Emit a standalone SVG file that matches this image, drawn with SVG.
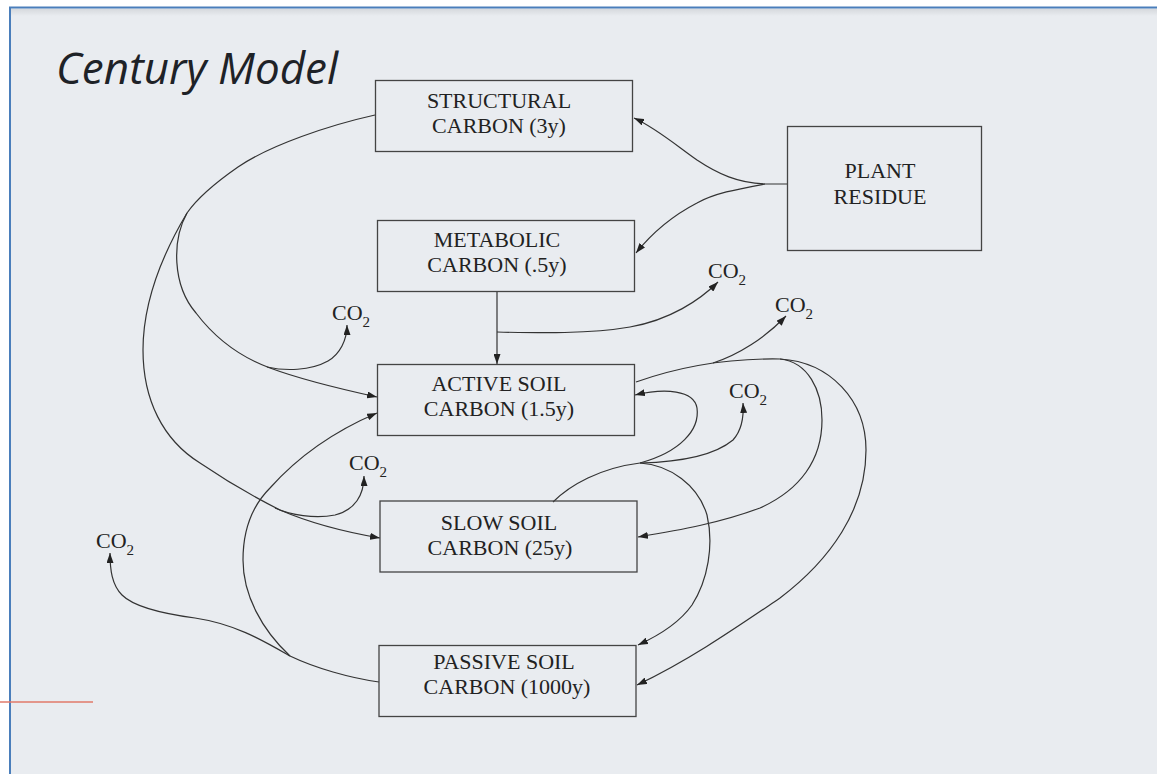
<svg xmlns="http://www.w3.org/2000/svg" width="1157" height="774" viewBox="0 0 1157 774">
<defs>
<style>
.bx{fill:none;stroke:#444;stroke-width:1.3}
.t{font-family:"Liberation Serif","Times New Roman",serif;font-size:22px;fill:#222;text-anchor:middle}
.co{font-family:"Liberation Serif","Times New Roman",serif;font-size:22px;fill:#222}
.sub{font-size:15px}
.c{fill:none;stroke:#333;stroke-width:1.2}
.a{marker-end:url(#ah)}
</style>
<marker id="ah" viewBox="0 0 10 7" refX="10" refY="3.5" markerWidth="10" markerHeight="7" markerUnits="userSpaceOnUse" orient="auto">
<path d="M0,0 L10,3.5 L0,7 z" fill="#222"/>
</marker>
<linearGradient id="sh" x1="0" y1="0" x2="0" y2="1">
<stop offset="0" stop-color="#d6d9dd"/>
<stop offset="1" stop-color="#e9ecf0"/>
</linearGradient>
</defs>
<rect x="0" y="0" width="1157" height="774" fill="#ffffff"/>
<rect x="10" y="8" width="1147" height="766" fill="#e9ecf0"/>
<rect x="11" y="9" width="1146" height="7" fill="url(#sh)"/>
<line x1="9" y1="7.5" x2="1157" y2="7.5" stroke="#4a7ebb" stroke-width="2"/>
<line x1="10" y1="7" x2="10" y2="774" stroke="#4a7ebb" stroke-width="2"/>
<line x1="0" y1="702" x2="93" y2="702" stroke="#e07a6a" stroke-width="1.5"/>

<text x="56" y="84" font-family="'Open Sans','Noto Sans',sans-serif" font-style="italic" font-size="44" fill="#1e2227">Century Model</text>

<g id="connectors">
<path class="c a" d="M788,184 L765,184 C738,183 718,174 697,160 C677,146 656,128 634,118"/>
<path class="c a" d="M765,184 C738,189 715,193 697,203 C670,217 652,233 636,253"/>
<path class="c a" d="M497,292 L497,364"/>
<path class="c a" d="M497,332 C540,333 590,334 630,327 C670,320 700,300 718,282"/>
<path class="c" d="M375,115 C330,125 270,145 238,167 C215,183 196,200 187,213"/>
<path class="c a" d="M187,213 C172,240 172,285 196,313 C215,338 240,357 270,368 C305,381 345,390 377,397"/>
<path class="c a" d="M267,367 C285,371 310,371 328,361 C340,354 347,340 347,325"/>
<path class="c a" d="M187,213 C165,250 143,300 143,350 C143,400 163,440 200,463 C225,480 250,495 280,510 C310,523 345,532 380,538"/>
<path class="c a" d="M275,508 C290,515 315,519 335,515 C355,510 364,495 364,476"/>
<path class="c" d="M379,682 C350,678 315,668 290,656"/>
<path class="c a" d="M290,656 C262,640 235,624 195,618 C165,614 135,608 122,595 C112,585 110,570 110,553"/>
<path class="c a" d="M290,656 C262,630 243,595 243,560 C243,530 253,505 270,488 C295,460 330,433 377,413"/>
<path class="c a" d="M636,382 C670,370 720,358 780,359 C808,362 822,390 822,420 C822,460 800,490 760,508 C720,523 680,530 638,537"/>
<path class="c a" d="M780,359 C830,362 866,400 866,450 C866,510 830,560 780,598 C740,625 690,660 637,685"/>
<path class="c a" d="M713,363 C738,355 765,338 786,316"/>
<path class="c" d="M553,502 C570,485 600,468 640,463"/>
<path class="c a" d="M640,463 C680,452 700,430 697,408 C694,390 665,388 635,395"/>
<path class="c a" d="M640,463 C680,462 715,455 733,440 C742,430 744,418 743,403"/>
<path class="c a" d="M640,463 C670,465 698,485 707,515 C714,545 708,580 692,605 C680,622 660,635 638,645"/>
</g>

<g id="structural">
<rect class="bx" x="375.5" y="80.5" width="257" height="71"/>
<text class="t" x="499" y="108">STRUCTURAL</text>
<text class="t" x="499" y="133">CARBON (3y)</text>
</g>
<g id="metabolic">
<rect class="bx" x="377.5" y="220.5" width="257" height="71"/>
<text class="t" x="497" y="247">METABOLIC</text>
<text class="t" x="497" y="272">CARBON (.5y)</text>
</g>
<g id="plant-residue">
<rect class="bx" x="787.5" y="126.5" width="194" height="124"/>
<text class="t" x="880" y="178">PLANT</text>
<text class="t" x="880" y="204">RESIDUE</text>
</g>
<g id="active">
<rect class="bx" x="377.5" y="364.5" width="257" height="71"/>
<text class="t" x="499" y="391">ACTIVE SOIL</text>
<text class="t" x="499" y="416">CARBON (1.5y)</text>
</g>
<g id="slow">
<rect class="bx" x="380" y="501" width="257" height="71"/>
<text class="t" x="499" y="530">SLOW SOIL</text>
<text class="t" x="500" y="555">CARBON (25y)</text>
</g>
<g id="passive">
<rect class="bx" x="379" y="645.5" width="257" height="71"/>
<text class="t" x="504" y="669">PASSIVE SOIL</text>
<text class="t" x="507" y="694">CARBON (1000y)</text>
</g>

<g id="co2-labels">
<text class="co" x="332" y="320">CO<tspan class="sub" dy="7">2</tspan></text>
<text class="co" x="708" y="278">CO<tspan class="sub" dy="7">2</tspan></text>
<text class="co" x="775" y="312">CO<tspan class="sub" dy="7">2</tspan></text>
<text class="co" x="729" y="398">CO<tspan class="sub" dy="7">2</tspan></text>
<text class="co" x="349" y="470">CO<tspan class="sub" dy="7">2</tspan></text>
<text class="co" x="96" y="548">CO<tspan class="sub" dy="7">2</tspan></text>
</g>
</svg>
